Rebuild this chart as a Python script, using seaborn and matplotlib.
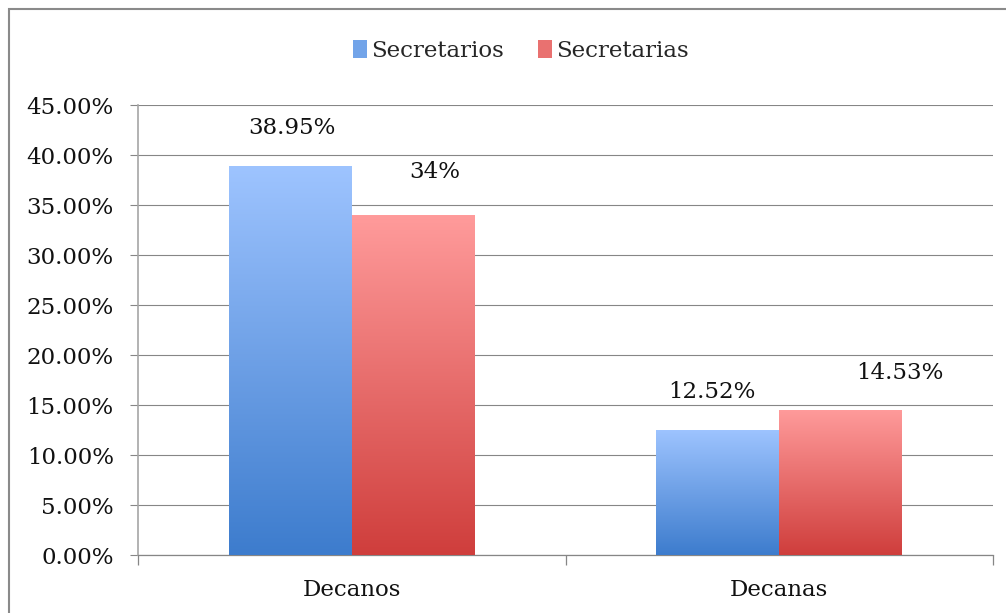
import numpy as np
import pandas as pd
import matplotlib
matplotlib.use("Agg")
import matplotlib.pyplot as plt
import seaborn as sns
from matplotlib.colors import LinearSegmentedColormap
from matplotlib.patches import Rectangle, Patch
from matplotlib.ticker import FuncFormatter, MultipleLocator

categories = ["Decanos", "Decanas"]
series = ["Secretarios", "Secretarias"]
secretarios = [38.95, 12.52]
secretarias = [34.0, 14.53]
labels = [["38.95%", "12.52%"], ["34%", "14.53%"]]

sns.set_theme(style="white")
plt.rcParams["font.family"] = ["DejaVu Serif"]

df = pd.DataFrame({
    "cat": categories * 2,
    "serie": [series[0]] * 2 + [series[1]] * 2,
    "val": secretarios + secretarias,
})

top_cols = {"Secretarios": "#9ec4ff", "Secretarias": "#ff9b9b"}
bot_cols = {"Secretarios": "#3d7ccd", "Secretarias": "#cf3e3c"}
FS = 16.5

fig = plt.figure(figsize=(10.06, 6.13), dpi=100)
ax = fig.add_axes([138 / 1006, 58 / 613, (993 - 138) / 1006, (555 - 105) / 613])

sns.barplot(data=df, x="cat", y="val", hue="serie", order=categories,
            hue_order=series, palette=top_cols, width=0.575, gap=0,
            ax=ax, legend=False, saturation=1)

ax.set_xlim(-0.5, 1.5)
ax.set_ylim(0, 45)

# gradient fill
for container, s in zip(ax.containers, series):
    cmap = LinearSegmentedColormap.from_list(s, [bot_cols[s], top_cols[s]])
    for p in container:
        x0, y0 = p.get_x(), p.get_y()
        w, h = p.get_width(), p.get_height()
        grad = np.linspace(0, 1, 256).reshape(-1, 1)
        im = ax.imshow(grad, cmap=cmap, origin="lower", aspect="auto",
                       extent=[x0, x0 + w, y0, y0 + h], zorder=3)
        im.set_clip_path(p)
        p.set_edgecolor("none")
ax.set_xlim(-0.5, 1.5)
ax.set_ylim(0, 45)

# value labels
offsets = [[(2, 38), (-6, 38)], [(22, 43), (59, 37)]]
for si, container in enumerate(ax.containers):
    for ci, p in enumerate(container):
        dx, dy = offsets[si][ci]
        ax.annotate(labels[si][ci], (p.get_x() + p.get_width() / 2, p.get_height()),
                    xytext=(dx * 0.72, dy * 0.72), textcoords="offset points",
                    ha="center", va="center", fontsize=FS, color="#111111", zorder=5)

# axes styling
ax.yaxis.set_major_locator(MultipleLocator(5))
ax.yaxis.set_major_formatter(FuncFormatter(lambda v, _: f"{v:.2f}%"))
ax.grid(axis="y", color="#868686", linewidth=0.8, zorder=0)
ax.set_axisbelow(True)
for side in ["top", "right"]:
    ax.spines[side].set_visible(False)
ax.spines["left"].set_color("#a6a6a6")
ax.spines["left"].set_linewidth(1.2)
ax.spines["bottom"].set_color("#868686")
ax.spines["bottom"].set_linewidth(0.9)
ax.tick_params(axis="y", length=6, width=0.8, color="#868686", labelsize=FS,
               labelcolor="#111111", pad=11.5, left=True, direction="out")
ax.set_xticks([0, 1])
ax.set_xticklabels(categories)
ax.set_xticks([-0.5, 0.5, 1.5], minor=True)
ax.tick_params(axis="x", which="major", length=0, labelsize=FS,
               labelcolor="#111111", pad=17)
ax.tick_params(axis="x", which="minor", length=7, width=0.9, color="#868686",
               bottom=True, direction="out")
ax.set_xlabel("")
ax.set_ylabel("")

# legend
handles = [Patch(facecolor=(np.array(matplotlib.colors.to_rgb(top_cols[s])) * 0.55 +
                            np.array(matplotlib.colors.to_rgb(bot_cols[s])) * 0.45),
                 edgecolor="none") for s in series]
fig.legend(handles, series, loc="center", bbox_to_anchor=(521 / 1006, 1 - 51 / 613),
           ncol=2, frameon=False, fontsize=FS, handlelength=0.6, handleheight=0.8,
           handletextpad=0.2, columnspacing=1.5)

# outer chart border
fig.patches.append(Rectangle((9 / 1006, -0.05), 1.2, 1 - 9 / 613 + 0.05,
                             transform=fig.transFigure, fill=False,
                             edgecolor="#8a8a8a", linewidth=1.5))

fig.savefig("out.png", dpi=100)
